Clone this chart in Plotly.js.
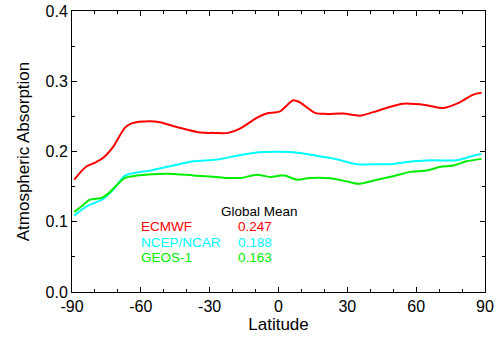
<!DOCTYPE html>
<html>
<head>
<meta charset="utf-8">
<script src="https://cdn.plot.ly/plotly-3.0.1.min.js"></script>
<style>html,body{margin:0;padding:0;background:#fff}#chart{width:503px;height:340px}</style>
</head>
<body>
<div id="chart"></div>
<script>
const ecmwfLat = [-89, -84, -80, -76.4, -72, -66.9, -64, -56, -51.7, -44.4, -34.2, -28.4, -21.9, -16.8, -9.5, -5.2, 0.6, 6.4, 9.3, 15.9, 21, 28.2, 35.5, 41.3, 47.1, 54.4, 64.5, 71.8, 79, 84.9, 88.5];
const ecmwfVal = [0.160, 0.178, 0.184, 0.191, 0.207, 0.234, 0.240, 0.243, 0.2416, 0.235, 0.227, 0.2265, 0.2265, 0.2326, 0.248, 0.254, 0.257, 0.273, 0.270, 0.255, 0.2535, 0.254, 0.251, 0.256, 0.262, 0.268, 0.266, 0.262, 0.270, 0.281, 0.2835];

const ncepLat = [-89, -83.6, -80, -76.4, -72, -66.9, -61.8, -56, -47.3, -37.1, -27, -18.2, -11, 0.6, 9.3, 18.1, 25.3, 34.1, 42.8, 50, 58.7, 67.4, 77.6, 84.9, 88.5];
const ncepVal = [0.109, 0.122, 0.127, 0.1325, 0.1457, 0.1657, 0.170, 0.1728, 0.179, 0.186, 0.1885, 0.194, 0.198, 0.1995, 0.198, 0.193, 0.189, 0.182, 0.1818, 0.1823, 0.186, 0.1875, 0.1875, 0.194, 0.1966];

const geosLat = [-89, -85.8, -82.2, -77.1, -74.2, -66.9, -61.8, -48.7, -37.1, -22.6, -16.1, -9.5, -3.7, 0.6, 2.8, 7.9, 13.7, 22.4, 29.7, 34.8, 41.3, 50, 57.3, 64.5, 70.3, 76.1, 81.9, 88.5];
const geosVal = [0.114, 0.122, 0.1315, 0.134, 0.140, 0.1624, 0.1657, 0.1685, 0.166, 0.1624, 0.1624, 0.167, 0.1638, 0.1657, 0.1657, 0.160, 0.1624, 0.162, 0.1575, 0.154, 0.1585, 0.1647, 0.171, 0.1728, 0.178, 0.180, 0.186, 0.1895];

const seriesNames = ["ECMWF", "NCEP/NCAR", "GEOS-1"];
const globalMeans = ["0.247", "0.188", "0.163"];
const seriesColors = ["#ff0000", "#00ffff", "#00ee00"];
const xTicks = [-90, -60, -30, 0, 30, 60, 90];
const yTicks = [0.0, 0.1, 0.2, 0.3, 0.4];

const font = "Liberation Sans, Arial, Helvetica, sans-serif";
const lats = [ecmwfLat, ncepLat, geosLat];
const vals = [ecmwfVal, ncepVal, geosVal];

const traces = lats.map((la, i) => ({
  x: la, y: vals[i], type: "scatter", mode: "lines",
  line: {color: seriesColors[i], width: 2, shape: "spline", smoothing: 0.8},
  name: seriesNames[i], hoverinfo: "skip"
}));

const legendY = [0.0935, 0.071, 0.0489];
const annFont = 13.5;
const annotations = [{
  x: -25.5, y: 0.1148, xref: "x", yref: "y", text: "Global Mean", showarrow: false,
  xanchor: "left", yanchor: "middle", borderpad: 0, font: {family: font, size: annFont, color: "#000"}
}];
seriesNames.forEach((n, i) => {
  annotations.push({x: -60.4, y: legendY[i], xref: "x", yref: "y", text: n, showarrow: false,
    xanchor: "left", yanchor: "middle", borderpad: 0, font: {family: font, size: annFont, color: seriesColors[i]}});
  annotations.push({x: -18.2, y: legendY[i], xref: "x", yref: "y", text: globalMeans[i], showarrow: false,
    xanchor: "left", yanchor: "middle", borderpad: 0, font: {family: font, size: annFont, color: seriesColors[i]}});
});

const layout = {
  width: 503, height: 340,
  margin: {l: 72, r: 18, t: 11, b: 48},
  paper_bgcolor: "#fff", plot_bgcolor: "#fff",
  showlegend: false,
  font: {family: font, size: 16, color: "#000"},
  xaxis: {
    range: [-90, 90], tickvals: xTicks, ticktext: xTicks.map(String),
    ticks: "inside", ticklen: 5, tickcolor: "#000", mirror: "ticks",
    showline: true, linecolor: "#000", linewidth: 1, showgrid: false, zeroline: false,
    minor: {dtick: 10, tick0: -90, ticks: "inside", ticklen: 3, tickcolor: "#000", showgrid: false},
    title: {text: "Latitude", font: {family: font, size: 17}, standoff: 3},
    tickfont: {family: font, size: 16}
  },
  yaxis: {
    range: [0, 0.4], tickvals: yTicks, ticktext: yTicks.map(v => v.toFixed(1)),
    ticks: "inside", ticklen: 5, tickcolor: "#000", mirror: "ticks",
    showline: true, linecolor: "#000", linewidth: 1, showgrid: false, zeroline: false,
    minor: {dtick: 0.05, tick0: 0, ticks: "inside", ticklen: 3, tickcolor: "#000", showgrid: false},
    title: {text: "Atmospheric Absorption", font: {family: font, size: 17}, standoff: 11},
    tickfont: {family: font, size: 16}
  },
  annotations: annotations
};

Plotly.newPlot("chart", traces, layout, {staticPlot: true, displayModeBar: false});
</script>
</body>
</html>
